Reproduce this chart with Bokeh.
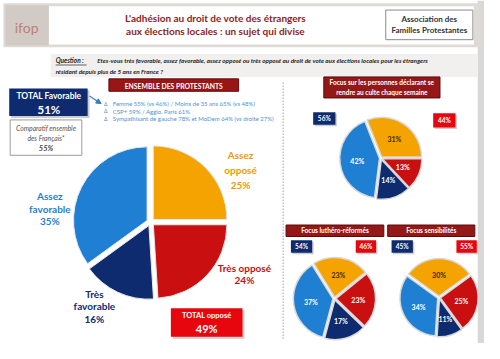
import math
from bokeh.plotting import figure
from bokeh.models import Range1d, Arrow, NormalHead
from bokeh.core.properties import value
from bokeh.embed import file_html
from bokeh.resources import INLINE

# ---------------- data ----------------
slice_names = ["Assez opposé", "Très opposé", "Très favorable", "Assez favorable"]
slice_colors = ["#F4A300", "#C90F0F", "#0D2B6E", "#1F7FD2"]
main_values = [25, 24, 16, 35]
culte_values = [31, 13, 14, 42]
luthero_values = [23, 23, 17, 37]
sensib_values = [30, 25, 11, 34]
comparatif_francais = 55
bullets = [
    "Femme 55% (vs 46%) / Moins de 35 ans 65% (vs 48%)",
    "CSP+ 59% / Agglo. Paris 61%",
    "Sympathisant de gauche 78% et MoDem 64% (vs droite 27%)",
]

FONT = "Lato"
W, H = 500, 359

p = figure(width=484, height=343, output_backend="svg", toolbar_location=None,
           x_range=Range1d(0, W), y_range=Range1d(0, H), min_border=0)
p.axis.visible = False
p.grid.visible = False
p.outline_line_color = None
p.background_fill_color = "white"
p.border_fill_color = "white"


def Y(y):
    return H - y


def box(l, r, t, b, fill, line=None, lw=1, alpha=1.0):
    p.quad(left=[l], right=[r], top=[Y(t)], bottom=[Y(b)], fill_color=fill,
           line_color=line, line_width=lw, fill_alpha=alpha)


def txt(x, y, s, size, color, style="bold", align="center", base="middle"):
    p.text(x=[x], y=[Y(y)], text=[s], text_font=value(FONT),
           text_font_size=f"{size}px", text_color=color, text_font_style=style,
           text_align=align, text_baseline=base)


# ---------------- frame / header ----------------
box(493, 500, 0, 359, "#D9D8D6")
box(3, 496, 3, 49, "#DEDAD6")
box(5, 50, 5, 47, "#D2CAC4")
box(50, 489, 6, 46, "white")
txt(27, 28, "ifop", 14, "#B98278", style="normal")
txt(222, 18, "L'adhésion au droit de vote des étrangers", 10, "#8E1C1C")
txt(222, 32, "aux élections locales : un sujet qui divise", 10, "#8E1C1C")
box(398, 488, 10, 41, "white", line="#8A8A8A", lw=1)
txt(443, 19, "Association des", 8, "#333333")
txt(443, 31, "Familles Protestantes", 8, "#333333")

# question
box(52, 493, 56, 80, "#F1F0EF")
txt(57, 63, "Question :", 6.5, "#222222", style="bold italic", align="left")
p.segment(x0=[57], x1=[89], y0=[Y(67.5)], y1=[Y(67.5)], line_color="#222222", line_width=0.7)
txt(100, 63, "Etes-vous très favorable, assez favorable, assez opposé ou très opposé au droit de vote aux élections locales pour les étrangers",
    6.3, "#222222", style="bold italic", align="left")
txt(57, 74, "résidant depuis plus de 5 ans en France ?", 6.3, "#222222", style="bold italic", align="left")


# ---------------- pies ----------------
def pie(cx, cy, r, vals, boundary_deg, explode, edge, lw, labels=True, lab_r=0.6, fs=7):
    b = math.radians(boundary_deg)
    tot = sum(vals)
    spans = [v / tot * 2 * math.pi for v in vals]
    starts, ends = [], []
    # first slice goes counter-clockwise from the boundary, others clockwise
    starts.append(b)
    ends.append(b + spans[0])
    cur = b
    for s in spans[1:]:
        starts.append(cur - s)
        ends.append(cur)
        cur -= s
    for i, v in enumerate(vals):
        mid = (starts[i] + ends[i]) / 2
        ox = cx + explode * math.cos(mid)
        oy = Y(cy) + explode * math.sin(mid)
        p.wedge(x=[ox], y=[oy], radius=r, start_angle=[starts[i]], end_angle=[ends[i]],
                fill_color=slice_colors[i], line_color=edge, line_width=lw)
        if labels:
            lx = cx + lab_r * r * math.cos(mid)
            ly = Y(cy) + lab_r * r * math.sin(mid)
            p.text(x=[lx], y=[ly], text=[f"{v}%"], text_font=value(FONT),
                   text_font_size=f"{fs}px", text_font_style="bold",
                   text_color="#3A2A00" if i == 0 else "white",
                   text_align="center", text_baseline="middle")


# main pie
pie(155, 232, 76, main_values, 0, 4, "#E8E8E8", 1, labels=False)

# main labels
txt(248, 162, "Assez", 10, "#EE9A00")
txt(248, 177, "opposé", 10, "#EE9A00")
txt(248, 193, f"{main_values[0]}%", 10, "#EE9A00")
txt(252, 280, "Très opposé", 10, "#C90F0F")
txt(252, 293, f"{main_values[1]}%", 10, "#C90F0F")
txt(97, 307, "Très", 10, "#0D2B6E")
txt(97, 320, "favorable", 10, "#0D2B6E")
txt(97, 333, f"{main_values[2]}%", 10, "#0D2B6E")
txt(51, 205, "Assez", 10, "#1F7FD2")
txt(51, 218, "favorable", 10, "#1F7FD2")
txt(51, 231, f"{main_values[3]}%", 10, "#1F7FD2")

# total favourable / comparatif
box(11, 92, 94, 123, "#999999", alpha=0.5)
box(9, 90, 92, 121, "#0D2B6E")
txt(50, 100, "TOTAL Favorable", 8.5, "white")
txt(50, 114, f"{main_values[2] + main_values[3]}%", 11.5, "white")
box(10, 84, 125, 162, "white", line="#9A9A9A", lw=1)
txt(47, 133, "Comparatif ensemble", 6.8, "#555555", style="italic")
txt(47, 144, "des Français*", 6.8, "#555555", style="italic")
txt(47, 155, f"{comparatif_francais}%", 7.5, "#444444", style="bold italic")

# arrow
p.add_layout(Arrow(end=NormalHead(size=5, fill_color="#3A7DC0", line_color="#3A7DC0"),
                   x_start=92, y_start=Y(100), x_end=104, y_end=Y(108),
                   line_color="#3A7DC0", line_width=1.2))

# ensemble des protestants
box(112, 246, 82, 95, "#9A1616", line="#5E0A0A", lw=1)
txt(179, 89, "ENSEMBLE DES PROTESTANTS", 6.8, "white")
for i, b in enumerate(bullets):
    txt(107, 108 + 8 * i, "Δ", 5, "#4A93D3", style="normal", align="left")
    txt(116, 108 + 8 * i, b, 6, "#4A93D3", style="normal", align="left")

# total opposé
box(178, 252, 324, 354, "#999999", alpha=0.5)
box(176, 250, 322, 352, "#E8060E")
txt(213, 330, "TOTAL opposé", 7.5, "white")
txt(213, 343, f"{main_values[0] + main_values[1]}%", 11, "white")

# dotted separator
p.segment(x0=[292], x1=[292], y0=[Y(86)], y1=[Y(356)], line_color="#777777",
          line_width=1, line_dash="1 2")


# ---------------- focus panels ----------------
def focus_header(l, r, t, b, lines, fs=6.5):
    box(l, r, t, b, "#951818", line="#5E0A0A", lw=1)
    n = len(lines)
    h = (b - t) / n
    for k, s in enumerate(lines):
        txt((l + r) / 2, t + h * (k + 0.5), s, fs, "white")


def pct_box(l, r, t, b, fill, s):
    box(l + 1.5, r + 1.5, t + 1.5, b + 1.5, "#999999", alpha=0.5)
    box(l, r, t, b, fill)
    txt((l + r) / 2, (t + b) / 2, s, 6.5, "white")


focus_header(334, 454, 80, 102, ["Focus sur les personnes déclarant se",
                                 "rendre au culte chaque semaine"])
pct_box(323, 346, 117, 130, "#0D2B6E", f"{culte_values[2] + culte_values[3]}%")
pct_box(447, 470, 118, 133, "#E8060E", f"{culte_values[0] + culte_values[1]}%")
pie(393, 165, 41, culte_values, 0, 1.5, "#D8D8D8", 1.5, lab_r=0.6)

focus_header(295, 396, 235, 247, ["Focus luthéro-réformés"])
focus_header(400, 490, 235, 247, ["Focus sensibilités"])
pct_box(300, 322, 251, 264, "#0D2B6E", f"{luthero_values[2] + luthero_values[3]}%")
pct_box(367, 388, 251, 264, "#E8060E", f"{luthero_values[0] + luthero_values[1]}%")
pct_box(404, 426, 251, 264, "#0D2B6E", f"{sensib_values[2] + sensib_values[3]}%")
pct_box(471, 492, 251, 264, "#E8060E", f"{sensib_values[0] + sensib_values[1]}%")
pie(345, 312, 41, luthero_values, 39, 1.5, "#D8D8D8", 1.5, lab_r=0.6)
pie(453, 311, 39, sensib_values, 36, 1.5, "#D8D8D8", 1.5, lab_r=0.6)

open("out.html", "w").write(file_html(p, INLINE))
